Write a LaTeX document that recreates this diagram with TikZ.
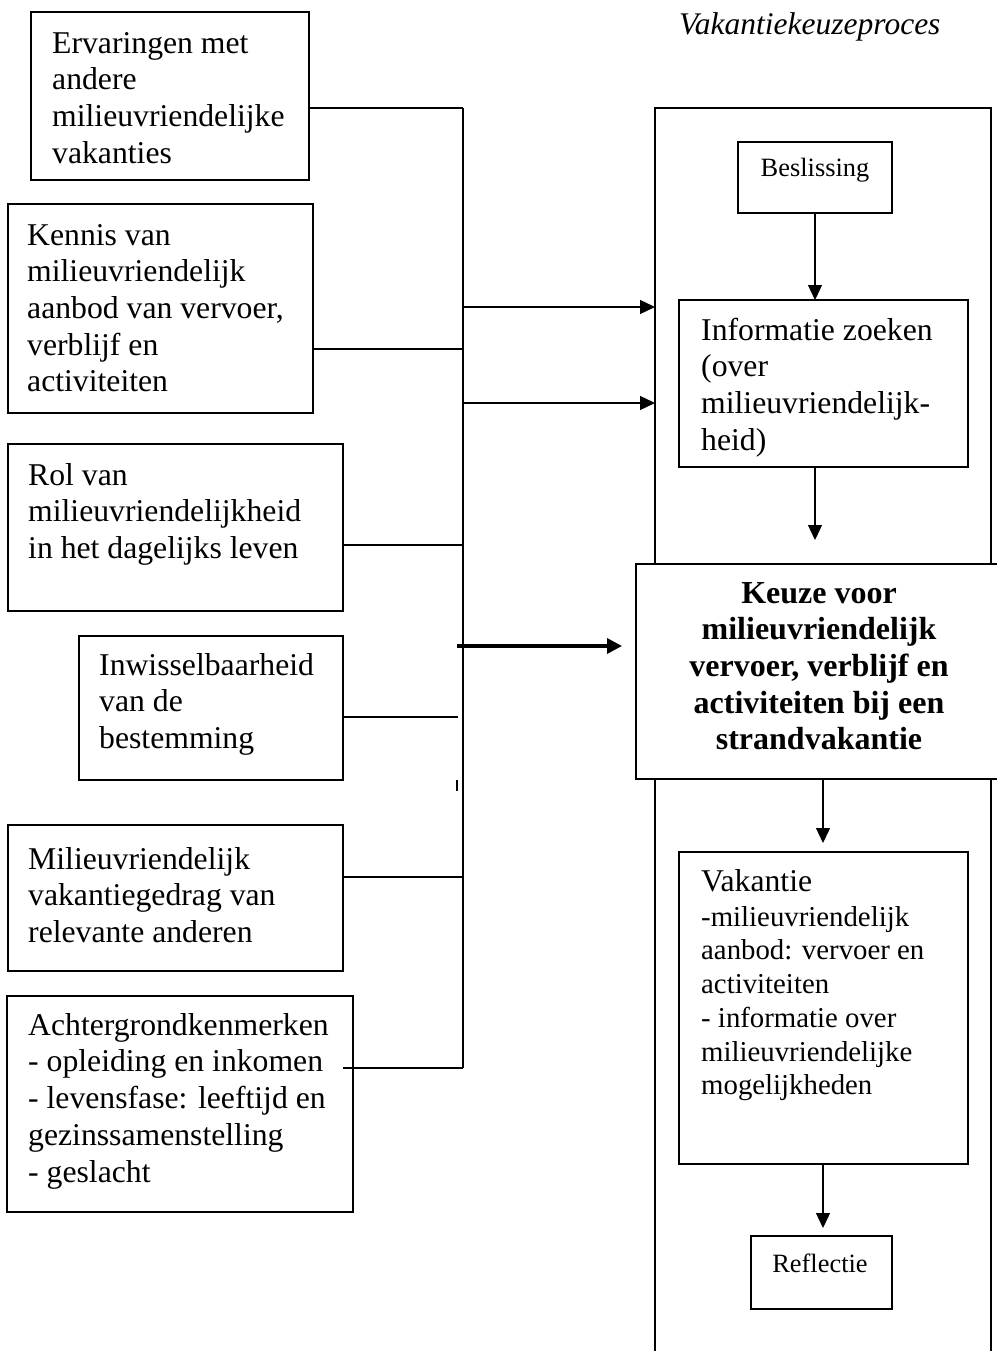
\documentclass[tikz,border=0pt]{standalone}
\usepackage{fontspec}
\setmainfont{Liberation Serif}
\usetikzlibrary{arrows.meta}
\begin{document}
\begin{tikzpicture}[x=1pt,y=-1pt,
  box/.style={draw, line width=1.4pt, inner sep=0pt, outer sep=0pt, anchor=north west, fill=white},
  txt/.style={inner sep=0pt, anchor=north west, align=left, font=\fontsize{31.7}{36.7}\selectfont},
  small/.style={inner sep=0pt, anchor=north west, align=left, font=\fontsize{28.8}{33.7}\selectfont},
  tiny/.style={inner sep=0pt, anchor=base, font=\fontsize{26.4}{30}\selectfont},
  bold/.style={inner sep=0pt, anchor=north, align=center, font=\bfseries\fontsize{32}{36.7}\selectfont},
  thin/.style={line width=1.3pt},
  arr/.style={line width=1.3pt, -{Triangle[length=15pt,width=14pt]}},
  thickarr/.style={line width=3.3pt, -{Triangle[length=15pt,width=15pt]}},
  bar/.style={line width=2.7pt}
]
\useasboundingbox (0,0) rectangle (996,1351);

% title
\node[inner sep=0pt, anchor=base west, font=\itshape\fontsize{31.5}{36}\selectfont] (title) at (679,35) {Vakantiekeuzeproces};

% outer process frame
\node[box, fill=none, line width=1.3pt, minimum width=336pt, minimum height=1262pt] (proc) at (655,108) {};

% left boxes
\node[box, minimum width=278pt, minimum height=168pt] (b1) at (31,12) {};
\node[txt] (t1) at (52,27.3) {\strut Ervaringen met\\andere\\milieuvriendelijke\\vakanties};

\node[box, minimum width=305pt, minimum height=209pt] (b2) at (8,204) {};
\node[txt] (t2) at (27,219.3) {\strut Kennis van\\milieuvriendelijk\\aanbod van vervoer,\\verblijf en\\activiteiten};

\node[box, minimum width=335pt, minimum height=167pt] (b3) at (8,444) {};
\node[txt] (t3) at (28,459.3) {\strut Rol van\\milieuvriendelijkheid\\in het dagelijks leven};

\node[box, minimum width=264pt, minimum height=144pt] (b4) at (79,636) {};
\node[txt] (t4) at (99,649.3) {\strut Inwisselbaarheid\\van de\\bestemming};

\node[box, minimum width=335pt, minimum height=146pt] (b5) at (8,825) {};
\node[txt] (t5) at (28,843.3) {\strut Milieuvriendelijk\\vakantiegedrag van\\relevante anderen};

\node[box, minimum width=346pt, minimum height=216pt] (b6) at (7,996) {};
\node[txt] (t6) at (28,1009.3) {\strut Achtergrondkenmerken\\- opleiding en inkomen\\- levensfase: leeftijd en\\gezinssamenstelling\\- geslacht};

% bar and junctions
\coordinate (bartop) at (463,108);
\coordinate (barbot) at (463,1068);
\coordinate (j2) at (463,349);
\coordinate (j3) at (463,545);
\coordinate (j4) at (458,717);
\coordinate (j5) at (463,877);
\coordinate (s6) at (343,1068);
\coordinate (a1) at (463,307);
\coordinate (a2) at (463,403);
\coordinate (a3) at (457,646);
\coordinate (a3e) at (622,646);

\draw[bar] (bartop) -- (barbot);
\draw[thin] (b1.east |- bartop) -- (bartop);
\draw[thin] (b2.east |- j2) -- (j2);
\draw[thin] (b3.east |- j3) -- (j3);
\draw[thin] (b4.east |- j4) -- (j4);
\draw[thin] (b5.east |- j5) -- (j5);
\draw[thin] (s6) -- (barbot);
\draw[thin] (457,780) -- (457,791);

\draw[arr] (a1) -- (proc.west |- a1);
\draw[arr] (a2) -- (proc.west |- a2);
\draw[thickarr] (a3) -- (a3e);

% right column
\node[box, minimum width=154pt, minimum height=71pt] (bes) at (738,142) {};
\node[tiny] (tbes) at (815,177) {Beslissing};

\node[box, minimum width=289pt, minimum height=167pt] (info) at (679,300) {};
\node[txt] (tinfo) at (701,314.3) {\strut Informatie zoeken\\(over\\milieuvriendelijk-\\heid)};

\node[box, minimum width=362pt, minimum height=215pt] (keuze) at (636,564) {};
\node[bold] (tkeuze) at (819,577.3) {\strut Keuze voor\\milieuvriendelijk\\vervoer, verblijf en\\activiteiten bij een\\strandvakantie};

\node[box, minimum width=289pt, minimum height=312pt] (vak) at (679,852) {};
\node[inner sep=0pt, anchor=base west, font=\fontsize{31.7}{36.7}\selectfont] (tvak) at (701,891) {Vakantie};
\node[small] (tvak2) at (701,902.4) {\strut -milieuvriendelijk\\aanbod: vervoer en\\activiteiten\\- informatie over\\milieuvriendelijke\\mogelijkheden};

\node[box, minimum width=141pt, minimum height=73pt] (refl) at (751,1236) {};
\node[tiny] (trefl) at (820,1272) {Reflectie};

\coordinate (c1) at (815,540);
\coordinate (c2) at (823,843);
\coordinate (c3) at (823,1228);
\draw[arr] (bes.south -| c1) -- (info.north -| c1);
\draw[arr] (info.south -| c1) -- (c1);
\draw[arr] (keuze.south -| c2) -- (c2);
\draw[arr] (vak.south -| c3) -- (c3);
\end{tikzpicture}
\end{document}
